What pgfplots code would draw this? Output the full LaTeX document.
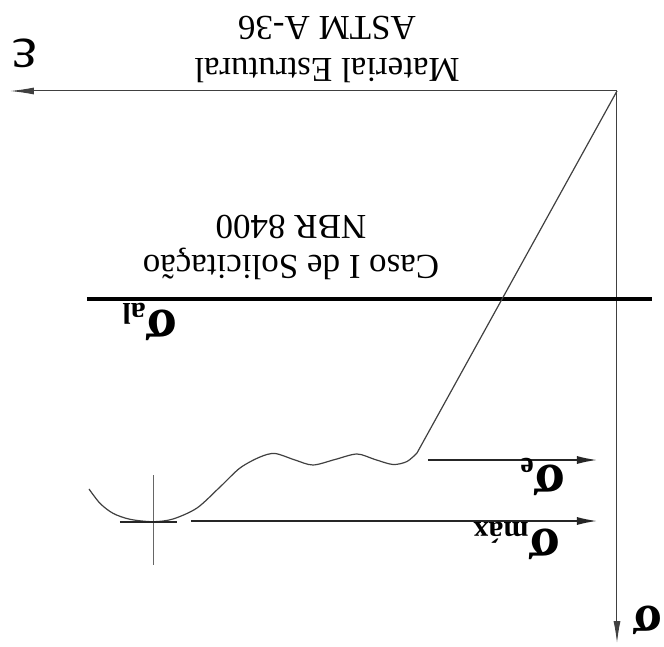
\documentclass[border=0pt]{standalone}
\usepackage{fontspec}
\setmainfont{Liberation Serif}
\usepackage{pgfplots}
\pgfplotsset{compat=1.18}
\usetikzlibrary{arrows.meta}
\newcommand{\sig}[1]{{\fontsize{29}{29}\selectfont\bfseries σ}{\fontsize{15}{15}\selectfont\bfseries\raisebox{-0.45ex}{#1}}}
\begin{document}
\begin{tikzpicture}
\begin{axis}[
  width=332pt, height=323.5pt, scale only axis,
  xmin=-47, xmax=617, ymin=-91, ymax=556,
  x dir=reverse, y dir=reverse,
  hide axis, clip=false,
]
\path (axis cs:-47,-91) rectangle (axis cs:617,556);
% axes
\addplot[black!75, line width=0.5pt, -{Latex[length=12pt,width=3.5pt]}] coordinates {(0,0) (607,0)};
\addplot[black!75, line width=0.5pt, -{Latex[length=11pt,width=3.5pt]}] coordinates {(0,0) (0,552)};
% allowable stress line
\addplot[black, line width=2.2pt] coordinates {(530,208) (-35,208)};
% stress-strain curve
\addplot[black!75, line width=0.6pt] coordinates {(0,0) (200,362)};
\addplot[black!75, line width=0.6pt, smooth] coordinates {(200,362) (210,370.5) (224,373.5) (242,368.5) (260,363) (282,368.5) (304,374) (322,369) (342,362.5) (357,366) (377,377) (397,396) (420,417) (444,428) (464,430.7) (487,428.3) (504,422.3) (517,412.3) (528,398)};
% arrows
\addplot[black!85, line width=0.7pt, -{Latex[length=10pt,width=4pt]}] coordinates {(189,369) (20,369)};
\addplot[black!85, line width=0.7pt, -{Latex[length=10pt,width=4pt]}] coordinates {(426,430) (20,430)};
% cross
\addplot[black!60, line width=0.5pt] coordinates {(463.7,384) (463.7,474)};
\addplot[black!85, line width=0.8pt] coordinates {(497,431) (440,431)};
% labels
\node[rotate=180, align=center, font=\fontsize{17.5}{21}\selectfont] at (axis cs:290,-42) {Material Estrutural\\ASTM A-36};
\node[rotate=180, align=center, font=\fontsize{17.5}{20}\selectfont] at (axis cs:326,156) {Caso I de Solicitação\\NBR 8400};
\node[rotate=180, font=\fontsize{30}{30}\selectfont] at (axis cs:592,-38) {ε};
\node[rotate=180] at (axis cs:467,231) {\sig{al}};
\node[rotate=180] at (axis cs:74,386) {\sig{e}};
\node[rotate=180] at (axis cs:100,450) {\sig{máx}};
\node[rotate=180, inner sep=0pt] at (axis cs:-31,529) {{\fontsize{27}{27}\selectfont\bfseries σ}};
\end{axis}
\end{tikzpicture}
\end{document}
